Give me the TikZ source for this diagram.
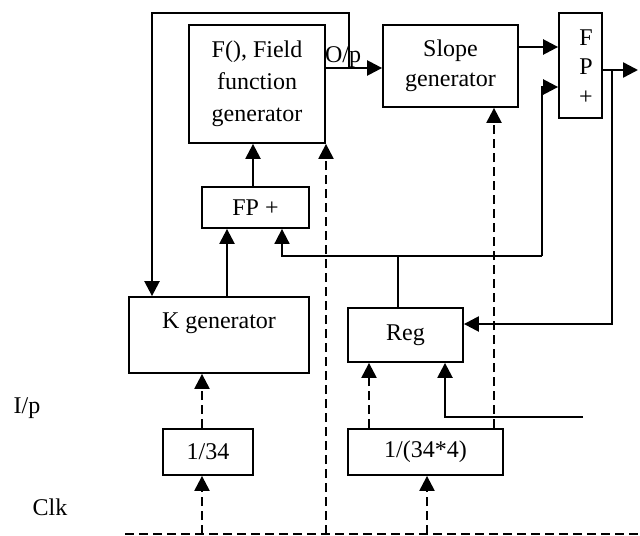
\documentclass[tikz,border=0pt]{standalone}
\usepackage{fontspec}
\setmainfont{Liberation Serif}
\usetikzlibrary{arrows.meta}
\begin{document}
\begin{tikzpicture}[x=0.5pt,y=-0.5pt,
  font=\fontsize{12}{16}\selectfont,
  box/.style={draw, line width=0.9pt, inner sep=0pt, align=center},
  conn/.style={line width=1.2pt},
  thinline/.style={line width=0.85pt},
  arr/.style={conn, -{Triangle[length=7.5pt,width=7.5pt]}},
  dsh/.style={line width=1.15pt, dash pattern=on 4.5pt off 2.5pt},
  darr/.style={dsh, -{Triangle[length=7.5pt,width=7.5pt]}},
]
\useasboundingbox (0,0) rectangle (640,535);

% boxes
\node[box, minimum width=68pt, minimum height=59pt] (ff) at (257,84) {F(), Field\\function\\generator};
\node[box, minimum width=67.5pt, minimum height=41pt, font=\fontsize{12}{15}\selectfont] (sl) at (450.5,66) {Slope\\generator};
\node[box, minimum width=21.5pt, minimum height=52.5pt] (fp) at (580.5,65.5) {};
\node[font=\fontsize{12}{14.75}\selectfont, align=center, inner sep=0pt] (fpt) at (586,67) {F\\P\\+};
\node[box, minimum width=53.5pt, minimum height=20.5pt] (fps) at (255.5,207.5) {FP +};
\node[box, minimum width=90pt, minimum height=38pt] (kg) at (219,335) {};
\node (kgt) at (219,323) {K generator};
\node[box, minimum width=57.5pt, minimum height=27pt] (reg) at (405.5,335) {Reg};
\node[box, minimum width=45pt, minimum height=23pt] (da) at (208,452) {1/34};
\node[box, minimum width=77.5pt, minimum height=23pt] (db) at (425.5,452) {1/(34*4)};

% labels
\node (op) at (343,57) {O/p};
\node (ip) at (27,408) {I/p};
\node (clk) at (50,507) {Clk};

% junctions and free ends
\coordinate (lp) at (349,68);
\coordinate (out) at (638,70);
\coordinate (tap) at (612,70);
\coordinate (sum) at (542,256);
\coordinate (regj) at (398,256);
\coordinate (ipin) at (583,417);
\coordinate (clkL) at (125,534);
\coordinate (clkR) at (640,534);

% solid connectors
\draw[arr] (ff.east |- lp) -- (sl.west |- lp);
\draw[arr] (lp) -- (349,13) -- (152,13) -- (152,0 |- kg.north);
\draw[arr] (sl.east |- 0,47) -- (fp.west |- 0,47);
\draw[arr] (fp.east |- out) -- (out);
\draw[arr] (tap) -- (612,324) -- (reg.east |- 0,324);
\draw[arr] (sum) -- (542,87) -- (fp.west |- 0,87);
\draw[arr, line width=0.9pt] (sum) -- (282,256) -- (282,0 |- fps.south);
\draw[thinline] (regj) -- (regj |- reg.north);
\draw[arr] (227,0 |- kg.north) -- (227,0 |- fps.south);
\draw[arr] (253,0 |- fps.north) -- (253,0 |- ff.south);
\draw[arr] (ipin) -- (445,417) -- (445,0 |- reg.south);

% dashed clock lines
\draw[dsh] (clkL) -- (clkR);
\draw[darr] (202,0 |- clkL) -- (202,0 |- da.south);
\draw[darr] (202,0 |- da.north) -- (202,0 |- kg.south);
\draw[darr] (427,0 |- clkL) -- (427,0 |- db.south);
\draw[darr] (326,0 |- clkL) -- (326,0 |- ff.south);
\draw[darr] (369,0 |- db.north) -- (369,0 |- reg.south);
\draw[darr] (494,0 |- db.north) -- (494,0 |- sl.south);
\end{tikzpicture}
\end{document}
